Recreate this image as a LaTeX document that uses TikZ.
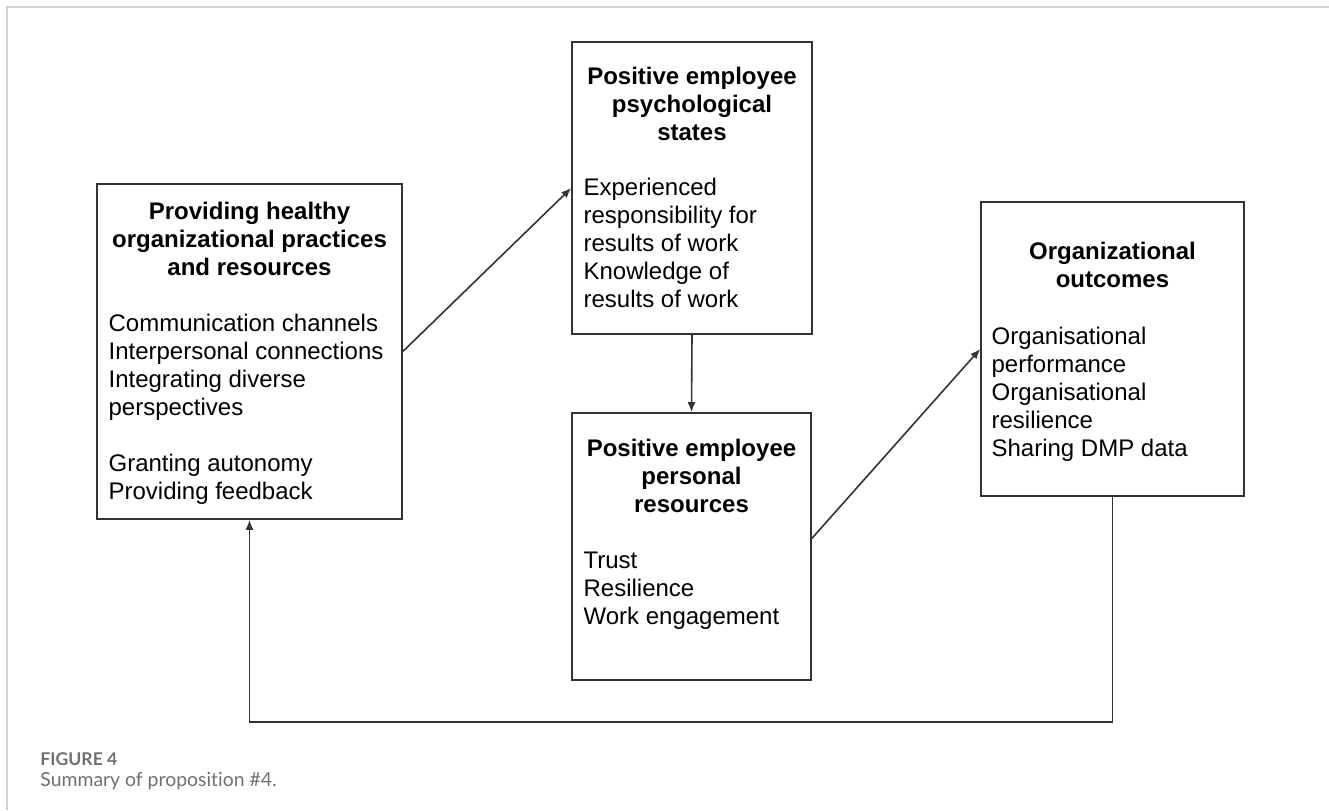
\documentclass[tikz,border=0pt]{standalone}
\usepackage{fontspec}
\setmainfont{Liberation Sans}
\newfontfamily\capfont[Ligatures=NoCommon]{Lato}
\usepackage{tikz}
\usetikzlibrary{calc,arrows.meta}
\definecolor{linegray}{HTML}{333333}
\definecolor{framegray}{HTML}{D2D2D2}
\definecolor{capgray}{HTML}{707070}

\begin{document}
\begin{tikzpicture}
[x=0.5pt,y=0.5pt,inner sep=0pt,
block/.style={draw=linegray,line width=0.8pt},
heading/.style={font=\fontsize{12}{14}\selectfont\bfseries,align=center,anchor=base},
body/.style={font=\fontsize{12}{14}\selectfont,align=left,anchor=base west},
link/.style={draw=linegray,line width=0.8pt,-{Latex[length=5pt,width=4pt]}}]
\useasboundingbox (0,0) rectangle (1329,-810);
\draw[framegray,line width=1pt] (7,-810) -- (7,-7) -- (1329,-7);
\node (practices) at (249.5,-351.5) [block,minimum width=152.5pt,minimum height=167.5pt] {};
\node (states) at (692,-188) [block,minimum width=120pt,minimum height=146pt] {};
\node (presources) at (691.5,-546.5) [block,minimum width=119.5pt,minimum height=133.5pt] {};
\node (outcomes) at (1112.5,-349) [block,minimum width=131.5pt,minimum height=147pt] {};
\node (practicestitle) at ($(practices.north)+(0,-92)$) [heading] {Providing healthy\\organizational practices\\and resources};
\node (practicesbody) at ($(practices.north west)+(12,-316)$) [body] {Communication channels\\Interpersonal connections\\Integrating diverse\\perspectives\\[14pt]Granting autonomy\\Providing feedback};
\node (statestitle) at ($(states.north)+(0,-99)$) [heading] {Positive employee\\psychological\\states};
\node (statesbody) at ($(states.north west)+(12,-266)$) [body] {Experienced\\responsibility for\\results of work\\Knowledge of\\results of work};
\node (presourcestitle) at ($(presources.north)+(0,-100)$) [heading] {Positive employee\\personal\\resources};
\node (presourcesbody) at ($(presources.north west)+(12,-212)$) [body] {Trust\\Resilience\\Work engagement};
\node (outcomestitle) at ($(outcomes.north)+(0,-86)$) [heading] {Organizational\\outcomes};
\node (outcomesbody) at ($(outcomes.north west)+(11,-255)$) [body] {Organisational\\performance\\Organisational\\resilience\\Sharing DMP data};
\coordinate (loopback) at (249.5,-722);
\draw[link] (practices.east) -- (states.west);
\draw[link] (states.south) -- (presources.north);
\draw[link] ([yshift=4pt]presources.east) -- (outcomes.west);
\draw[link] (outcomes.south) |- (loopback) -- (practices.south);
\node (figlabel) at (40,-765) [anchor=base west,font=\capfont\fontsize{8.8}{10}\selectfont\bfseries,text=capgray] {FIGURE 4};
\node (figcaption) at (40,-786) [anchor=base west,font=\capfont\fontsize{9.7}{11}\selectfont,text=capgray] {Summary of proposition \#4.};
\end{tikzpicture}
\end{document}
